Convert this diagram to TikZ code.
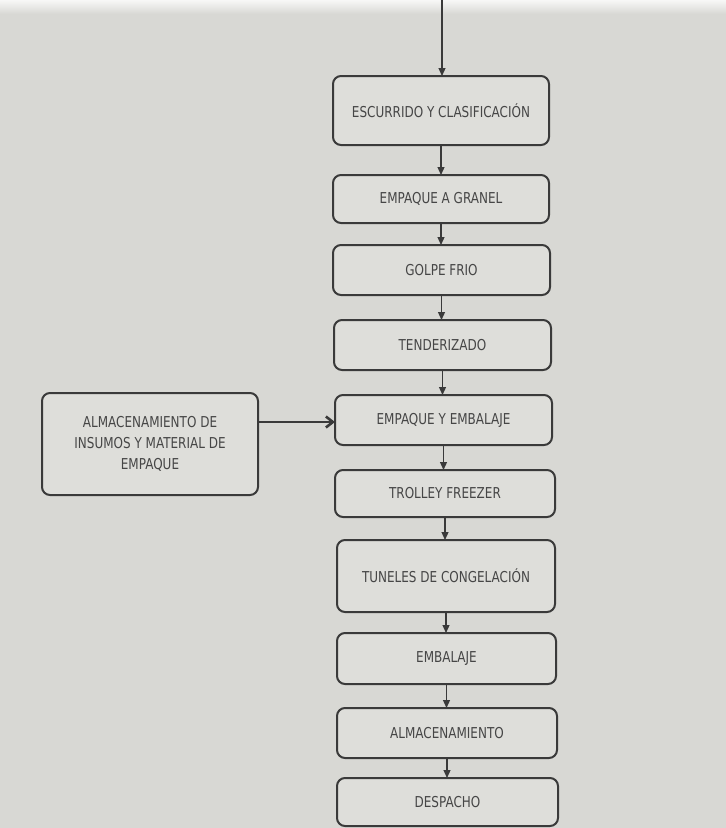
\documentclass[tikz,border=0pt]{standalone}
\usepackage{fontspec}
\setmainfont{DejaVu Sans}[FakeStretch=0.8]
\usetikzlibrary{arrows.meta}
\definecolor{paper}{RGB}{216,216,212}
\definecolor{boxfill}{RGB}{222,222,218}
\definecolor{ink}{RGB}{58,58,58}
\definecolor{txt}{RGB}{70,70,70}
\begin{document}
\begin{tikzpicture}[x=1pt,y=-1pt,
  proc/.style={draw=ink,line width=2pt,rounded corners=8pt,fill=boxfill},
  lbl/.style={text=txt,font=\fontsize{15}{21}\selectfont,align=center,inner sep=0pt},
  flow/.style={draw=ink,line width=1.2pt,-{Triangle[length=8pt,width=7pt]}},
  feed/.style={draw=ink,line width=2.6pt,-{Straight Barb[length=7pt,width=11pt,line width=2.6pt]}}]
\fill[paper] (0,0) rectangle (726,828);
\shade[top color=white!80!paper,bottom color=paper] (0,0) rectangle (726,14);
\useasboundingbox (0,0) rectangle (726,828);
\newcommand{\pbox}[6]{\draw[proc] (#1,#2) rectangle (#3,#4); \node[lbl] (#5) at ({(#1+#3)/2},{(#2+#4)/2}) {#6};
  \coordinate (#5-n) at ({(#1+#3)/2},#2); \coordinate (#5-s) at ({(#1+#3)/2},#4); \coordinate (#5-w) at (#1,{(#2+#4)/2}); \coordinate (#5-e) at (#3,{(#2+#4)/2});}
\pbox{333}{76}{549}{145}{b1}{ESCURRIDO Y CLASIFICACIÓN}
\pbox{333}{175}{549}{223}{b2}{EMPAQUE A GRANEL}
\pbox{333}{245}{550}{295}{b3}{GOLPE FRIO}
\pbox{334}{320}{551}{370}{b4}{TENDERIZADO}
\pbox{335}{395}{552}{445}{b5}{EMPAQUE Y EMBALAJE}
\pbox{335}{470}{555}{517}{b6}{TROLLEY FREEZER}
\pbox{337}{540}{555}{612}{b7}{TUNELES DE CONGELACIÓN}
\pbox{337}{633}{556}{684}{b8}{EMBALAJE}
\pbox{337}{708}{557}{758}{b9}{ALMACENAMIENTO}
\pbox{337}{778}{558}{826}{b10}{DESPACHO}
\pbox{42}{393}{258}{495}{side}{ALMACENAMIENTO DE\\INSUMOS Y MATERIAL DE\\EMPAQUE}
\coordinate (top) at (442,0);
\draw[flow] (top) -- (top |- b1-n);
\draw[flow] (b1-s) -- (b1-s |- b2-n);
\draw[flow] (b2-s) -- (b2-s |- b3-n);
\draw[flow] (b3-s) -- (b3-s |- b4-n);
\draw[flow] (b4-s) -- (b4-s |- b5-n);
\draw[flow] (b5-s) -- (b5-s |- b6-n);
\draw[flow] (b6-s) -- (b6-s |- b7-n);
\draw[flow] (b7-s) -- (b7-s |- b8-n);
\draw[flow] (b8-s) -- (b8-s |- b9-n);
\draw[flow] (b9-s) -- (b9-s |- b10-n);
\draw[feed] (side-e |- 0,422) -- (b5-w |- 0,422);
\end{tikzpicture}
\end{document}
